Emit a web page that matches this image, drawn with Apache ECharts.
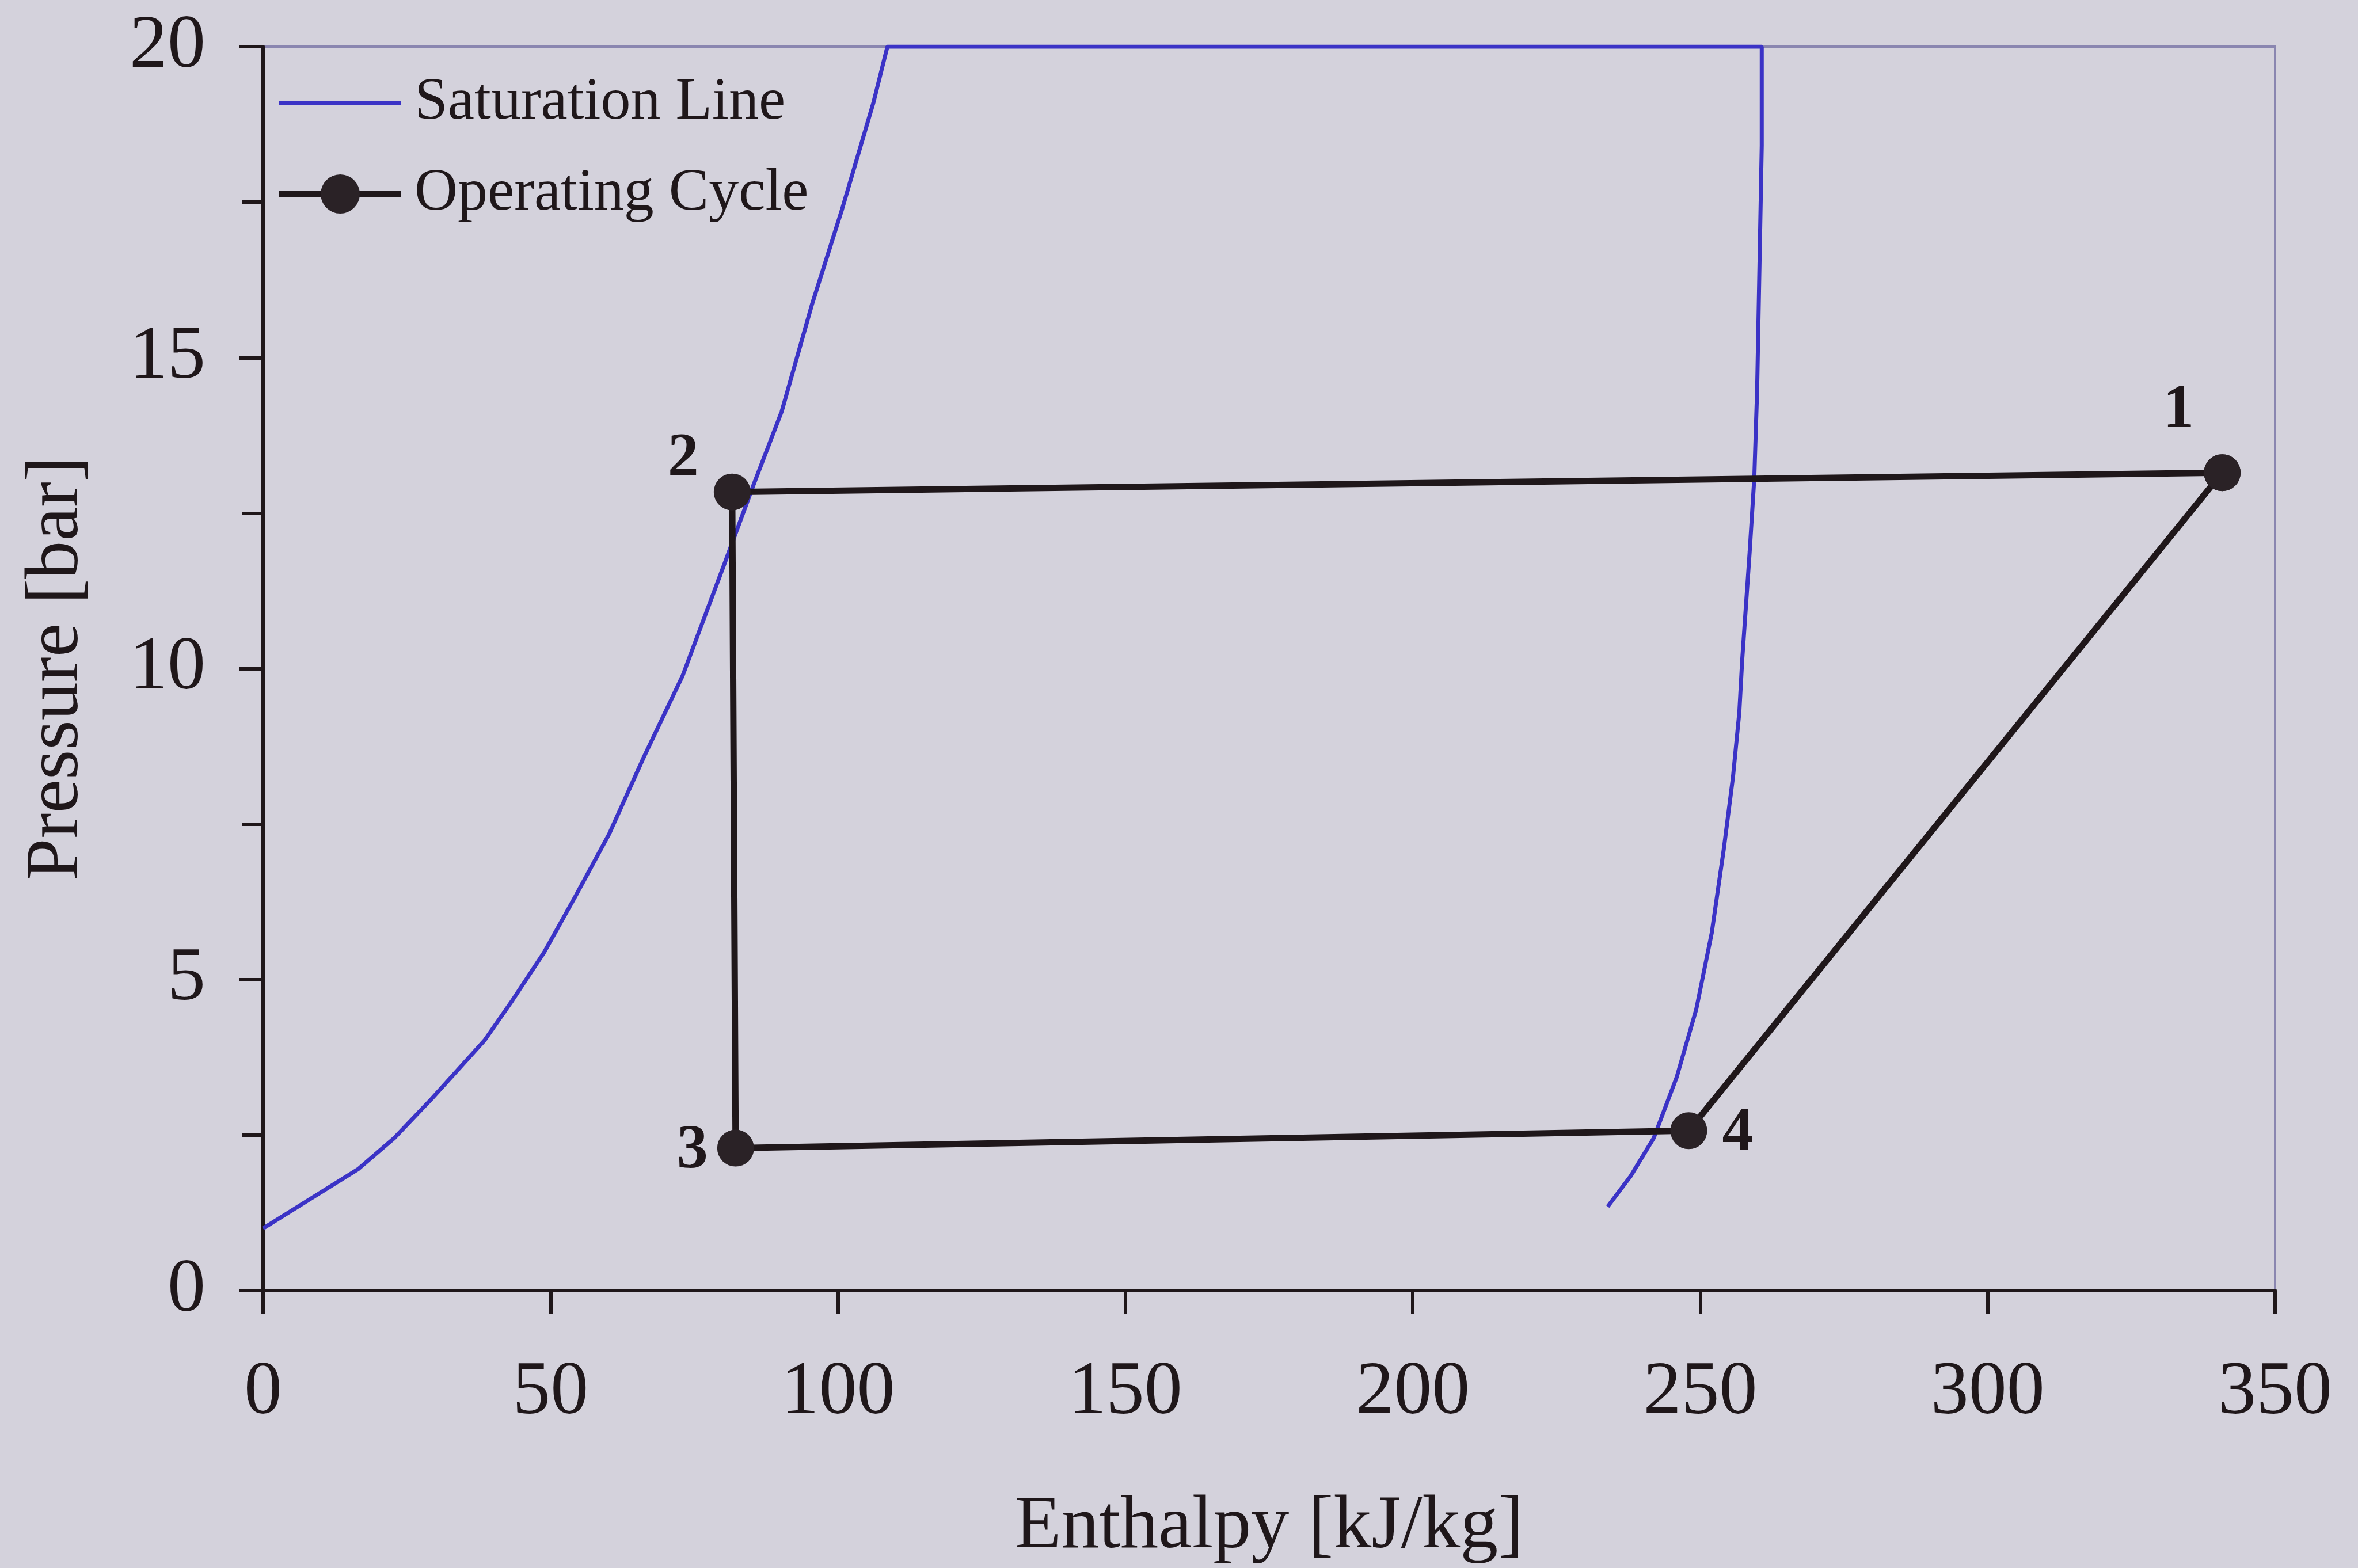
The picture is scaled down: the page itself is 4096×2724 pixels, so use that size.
<!DOCTYPE html>
<html>
<head>
<meta charset="utf-8">
<title>Pressure-Enthalpy cycle</title>
<script src="https://cdn.jsdelivr.net/npm/echarts@6/dist/echarts.min.js"></script>
<style>
  html, body { margin: 0; padding: 0; background: #d4d2dc; }
  #chart { width: 4096px; height: 2724px; }
</style>
</head>
<body>
<div id="chart"></div>
<script>
// saturation dome (enthalpy kJ/kg, pressure bar)
const satH = [0, 16.5, 22.8, 29.3, 38.5, 43.4, 48.9, 54.4, 60.2, 66.2, 73.0, 80.6, 85.3, 90.2, 95.5, 100.7, 106.2, 108.6,
  260.7, 260.7, 260.3, 259.9, 259.4, 258.6, 257.3, 256.8, 255.7, 254.1, 252.0, 249.3, 245.9, 241.9, 237.9, 233.9]
const satP = [1.0, 1.95, 2.45, 3.08, 4.02, 4.67, 5.44, 6.35, 7.34, 8.57, 9.89, 11.77, 12.95, 14.13, 15.86, 17.38, 19.11, 20,
  20, 18.41, 16.45, 14.5, 13.06, 11.88, 10.14, 9.3, 8.26, 7.1, 5.75, 4.52, 3.43, 2.45, 1.84, 1.35]

// operating cycle 1 -> 2 -> 3 -> 4 -> 1
const cycleH = [340.8, 81.6, 82.2, 248.0, 340.8]
const cycleP = [13.15, 12.84, 2.29, 2.57, 13.15]
const cycleLabels = ['1', '2', '3', '4', '']

const xTicks = { min: 0, max: 350, step: 50 }
const yTicks = { min: 0, max: 20, step: 5 }

const serif = 'Liberation Serif'
const ink = '#1f171a'
const blue = '#3b33c6'
// label offsets around each state point (px)
const labelOffsets = [[-76, -107], [-85, -57], [-75, 6], [85, 6], [0, 0]]

const chart = echarts.init(document.getElementById('chart'))

const option = {
  backgroundColor: '#d4d2dc',
  animation: false,
  grid: {
    left: 457, right: 144, top: 81, bottom: 472,
    show: true,
    borderColor: '#8a86b0',
    borderWidth: 4,
    backgroundColor: 'transparent'
  },
  legend: {
    orient: 'vertical',
    left: 475,
    top: 122,
    itemWidth: 212,
    itemHeight: 85,
    itemGap: 54,
    lineStyle: { width: 10 },
    textStyle: {
      fontFamily: serif,
      fontSize: 104,
      color: ink,
      lineHeight: 85,
      padding: [0, 0, 0, 18]
    },
    data: [
      { name: 'Saturation Line', icon: 'path://M0,0 L212,0 L212,8 L0,8 Z' },
      { name: 'Operating Cycle' }
    ]
  },
  xAxis: {
    type: 'value',
    min: xTicks.min,
    max: xTicks.max,
    interval: xTicks.step,
    name: 'Enthalpy [kJ/kg]',
    nameLocation: 'middle',
    nameGap: 345,
    nameTextStyle: { fontFamily: serif, fontSize: 132, color: ink },
    axisLine: { show: true, onZero: false, lineStyle: { color: ink, width: 6 } },
    axisTick: { show: true, length: 40, lineStyle: { color: ink, width: 6 } },
    axisLabel: { fontFamily: serif, fontSize: 132, color: ink, margin: 112 },
    splitLine: { show: false }
  },
  yAxis: {
    type: 'value',
    min: yTicks.min,
    max: yTicks.max,
    interval: yTicks.step,
    name: 'Pressure [bar]',
    nameLocation: 'middle',
    nameGap: 292,
    nameTextStyle: { fontFamily: serif, fontSize: 132, color: ink },
    axisLine: { show: true, onZero: false, lineStyle: { color: ink, width: 6 } },
    axisTick: { show: true, length: 42, lineStyle: { color: ink, width: 6 } },
    minorTick: { show: true, splitNumber: 2, length: 36, lineStyle: { color: ink, width: 6 } },
    axisLabel: { fontFamily: serif, fontSize: 132, color: ink, margin: 100 },
    splitLine: { show: false }
  },
  series: [
    {
      name: 'Saturation Line',
      type: 'line',
      showSymbol: false,
      symbol: 'none',
      clip: true,
      lineStyle: { color: blue, width: 7 },
      itemStyle: { color: blue },
      data: satH.map((h, i) => [h, satP[i]]),
      z: 2
    },
    {
      name: 'Operating Cycle',
      type: 'line',
      symbol: 'circle',
      symbolSize: 64,
      showAllSymbol: true,
      lineStyle: { color: ink, width: 11 },
      itemStyle: { color: '#2a2226' },
      data: cycleH.map((h, i) => ({
        value: [h, cycleP[i]],
        label: {
          show: cycleLabels[i] !== '',
          formatter: cycleLabels[i],
          position: 'inside',
          offset: labelOffsets[i],
          fontFamily: serif,
          fontWeight: 'bold',
          fontSize: 108,
          color: ink
        }
      })),
      z: 3
    }
  ]
}

option && chart.setOption(option)
window.addEventListener('resize', () => { chart.resize() })
</script>
</body>
</html>
